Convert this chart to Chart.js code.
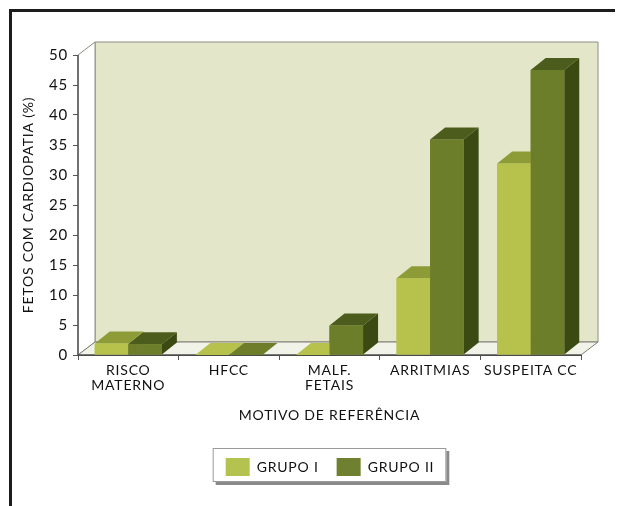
<!DOCTYPE html>
<html>
<head>
<meta charset="utf-8">
<script src="https://cdn.jsdelivr.net/npm/chart.js@4/dist/chart.umd.min.js"></script>
<style>
  html, body { margin: 0; padding: 0; background: #ffffff; }
  #wrap { position: relative; width: 619px; height: 506px; overflow: hidden; }
  #wrap canvas { position: absolute; left: 0; top: 0; }
  #frame {
    position: absolute; left: 9px; top: 9px; width: 603px; height: 500px;
    border-top: 3px solid #1c1c1c; border-left: 3px solid #1c1c1c;
    pointer-events: none;
  }
</style>
</head>
<body>
<div id="wrap">
  <canvas id="chart" width="619" height="506"></canvas>
  <div id="frame"></div>
</div>
<script>
// Referral reasons and share of fetuses with heart disease (%)
const categories = [["RISCO", "MATERNO"], "HFCC", ["MALF.", "FETAIS"], "ARRITMIAS", "SUSPEITA CC"];
const grupoI  = [1.9, 0, 0, 12.8, 31.9];
const grupoII = [1.8, 0, 4.9, 35.9, 47.5];
const yTickValues = [0, 5, 10, 15, 20, 25, 30, 35, 40, 45, 50];
const seriesNames = ["GRUPO I", "GRUPO II"];
const yTitle = "FETOS COM CARDIOPATIA (%)";
const xTitle = "MOTIVO DE REFERÊNCIA";

// Face colours of each group's columns: front, top, side
const faces = [
  { front: "#b6c24c", top: "#8e9c38", side: "#7b8a2c", legend: "#b4c250" },
  { front: "#6d7e2b", top: "#4c5c1c", side: "#3b4913", legend: "#6f8030" }
];

const BAR_DEPTH  = { x: 15, y: -12 };
const WALL_DEPTH = { x: 17, y: -13 };
const LEGEND_CENTER_X = 330;
const TEXT = "#111111";
const FONT = "Lato, 'Open Sans', sans-serif";
const SPACING = "0.8px";

function poly(ctx, pts, fill, stroke) {
  ctx.beginPath();
  ctx.moveTo(pts[0][0], pts[0][1]);
  for (let i = 1; i < pts.length; i++) ctx.lineTo(pts[i][0], pts[i][1]);
  ctx.closePath();
  if (fill) { ctx.fillStyle = fill; ctx.fill(); }
  if (stroke) { ctx.strokeStyle = stroke; ctx.lineWidth = 1; ctx.stroke(); }
}

// Wider tracking for every text the chart measures and draws
const tracking = {
  id: "tracking",
  beforeUpdate(chart) { chart.ctx.letterSpacing = SPACING; },
  beforeDraw(chart) { chart.ctx.letterSpacing = SPACING; }
};

// Legend sits right of the canvas centre, under the plot
const legendShift = {
  id: "legendShift",
  afterUpdate(chart) {
    const lg = chart.legend;
    if (!lg) return;
    const d = LEGEND_CENTER_X - (lg.left + lg.right) / 2;
    lg.left += d; lg.right += d;
    (lg.legendHitBoxes || []).forEach(b => { b.left += d; });
  }
};

// Walls and floor behind the columns, plus the framed legend box
const room = {
  id: "room",
  beforeDraw(chart) {
    const ctx = chart.ctx;
    const boxes = chart.legend && chart.legend.legendHitBoxes;
    if (!boxes || !boxes.length) return;
    const l = Math.min(...boxes.map(b => b.left)) - 13;
    const r = Math.max(...boxes.map(b => b.left + b.width)) + 12;
    const t = Math.min(...boxes.map(b => b.top)) - 10;
    const btm = Math.max(...boxes.map(b => b.top + b.height)) + 6;
    ctx.save();
    ctx.fillStyle = "#8a8a8a";
    ctx.fillRect(l + 3, t + 3, r - l, btm - t);
    ctx.fillStyle = "#ffffff";
    ctx.fillRect(l, t, r - l, btm - t);
    ctx.strokeStyle = "#9a9a9a";
    ctx.lineWidth = 1;
    ctx.strokeRect(l + 0.5, t + 0.5, r - l - 1, btm - t - 1);
    ctx.restore();
  },
  beforeDatasetsDraw(chart) {
    const ctx = chart.ctx;
    const a = chart.chartArea;
    const dx = WALL_DEPTH.x, dy = WALL_DEPTH.y;
    ctx.save();
    // back wall
    poly(ctx, [[a.left + dx, a.top + dy], [a.right + dx, a.top + dy],
               [a.right + dx, a.bottom + dy], [a.left + dx, a.bottom + dy]], "#e3e6c9", "#8c8c84");
    // left wall
    poly(ctx, [[a.left, a.top], [a.left + dx, a.top + dy],
               [a.left + dx, a.bottom + dy], [a.left, a.bottom]], "#ffffff", "#8c8c84");
    // floor
    poly(ctx, [[a.left, a.bottom], [a.right, a.bottom],
               [a.right + dx, a.bottom + dy], [a.left + dx, a.bottom + dy]], "#f2f3e8", "#7c7c74");
    // front axis lines
    ctx.strokeStyle = "#3a3a3a";
    ctx.lineWidth = 1.2;
    ctx.beginPath();
    ctx.moveTo(a.left, a.top); ctx.lineTo(a.left, a.bottom); ctx.lineTo(a.right, a.bottom);
    ctx.stroke();
    ctx.restore();
  },
  afterDatasetsDraw(chart) {
    const ctx = chart.ctx;
    const n = chart.data.labels.length;
    const metas = chart.data.datasets.map((d, i) => chart.getDatasetMeta(i));
    const dx = BAR_DEPTH.x, dy = BAR_DEPTH.y;
    ctx.save();
    for (let i = 0; i < n; i++) {
      metas.forEach((meta, k) => {
        const el = meta.data[i];
        if (!el) return;
        const p = el.getProps(["x", "y", "base", "width"], true);
        const c = faces[k];
        const l = p.x - p.width / 2, r = p.x + p.width / 2;
        const t = Math.min(p.y, p.base), b = p.base;
        const flat = b - t < 0.5;
        // side
        poly(ctx, [[r, t], [r + dx, t + dy], [r + dx, b + dy], [r, b]], c.side);
        // top
        poly(ctx, [[l, t], [r, t], [r + dx, t + dy], [l + dx, t + dy]], flat ? c.front : c.top);
        // front
        if (!flat) { ctx.fillStyle = c.front; ctx.fillRect(l, t, r - l, b - t); }
      });
    }
    ctx.restore();
  }
};

const ctx = document.getElementById("chart").getContext("2d");
new Chart(ctx, {
  type: "bar",
  data: {
    labels: categories,
    datasets: [
      { label: seriesNames[0], data: grupoI, backgroundColor: faces[0].legend, borderWidth: 0 },
      { label: seriesNames[1], data: grupoII, backgroundColor: faces[1].legend, borderWidth: 0 }
    ]
  },
  options: {
    responsive: false,
    animation: false,
    devicePixelRatio: 1,
    layout: { padding: { left: 12, right: 38, top: 55, bottom: 20 } },
    datasets: { bar: { categoryPercentage: 0.667, barPercentage: 1.0 } },
    plugins: {
      tooltip: { enabled: false },
      legend: {
        position: "bottom",
        labels: {
          boxWidth: 24, boxHeight: 18, padding: 18,
          color: TEXT, font: { family: FONT, size: 14 }
        }
      }
    },
    scales: {
      x: {
        afterFit(scale) { scale.height = 85; },
        grid: { display: true, drawOnChartArea: false, drawTicks: true, tickLength: 5, color: "#555", offset: true },
        border: { display: true, color: "#3a3a3a" },
        ticks: { color: TEXT, font: { family: FONT, size: 14, lineHeight: 1.07 }, padding: 3, maxRotation: 0, autoSkip: false },
        title: { display: true, text: xTitle, color: TEXT, font: { family: FONT, size: 14 }, padding: { top: 4, bottom: 16 } }
      },
      y: {
        min: 0, max: 50,
        afterFit(scale) { scale.width = 66; },
        afterBuildTicks(scale) { scale.ticks = yTickValues.map(v => ({ value: v })); },
        grid: { display: true, drawOnChartArea: false, drawTicks: true, tickLength: 5, color: "#555" },
        border: { display: true, color: "#3a3a3a" },
        ticks: { color: TEXT, font: { family: FONT, size: 15 }, padding: 5 },
        title: { display: true, text: yTitle, color: TEXT, font: { family: FONT, size: 14 }, padding: { top: 8, bottom: 0 } }
      }
    }
  },
  plugins: [tracking, legendShift, room]
});
</script>
</body>
</html>
